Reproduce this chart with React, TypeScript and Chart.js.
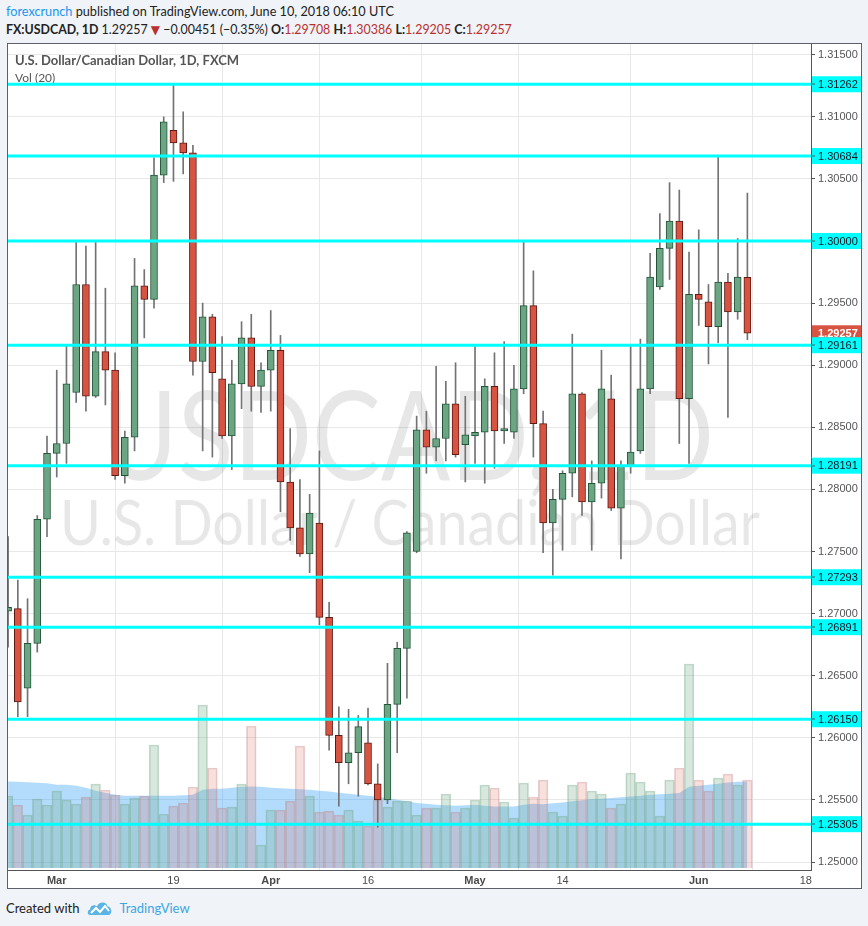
import React, { useEffect, useRef } from 'react';
import { Chart, registerables } from 'chart.js';

Chart.register(...registerables);

// ---- data ----
const axisDates = [
  '02-22', '02-23', '02-26', '02-27', '02-28',
  '03-01', '03-02', '03-05', '03-06', '03-07', '03-08', '03-09', '03-12', '03-13', '03-14', '03-15', '03-16',
  '03-19', '03-20', '03-21', '03-22', '03-23', '03-26', '03-27', '03-28', '03-29', '03-30',
  '04-02', '04-03', '04-04', '04-05', '04-06', '04-09', '04-10', '04-11', '04-12', '04-13',
  '04-16', '04-17', '04-18', '04-19', '04-20', '04-23', '04-24', '04-25', '04-26', '04-27', '04-30',
  '05-01', '05-02', '05-03', '05-04', '05-07', '05-08', '05-09', '05-10', '05-11',
  '05-14', '05-15', '05-16', '05-17', '05-18', '05-21', '05-22', '05-23', '05-24', '05-25',
  '05-28', '05-29', '05-30', '05-31', '06-01', '06-04', '06-05', '06-06', '06-07', '06-08',
  '06-11', '06-12', '06-13', '06-14', '06-15', '06-18',
];

const opens = [
  1.2702, 1.2704, 1.2640, 1.2676, 1.2776, 1.2829, 1.2837, 1.2878, 1.2965, 1.2875,
  1.2911, 1.2896, 1.2811, 1.2842, 1.2964, 1.2953, 1.3053, 1.3089, 1.3079, 1.3071,
  1.2903, 1.2939, 1.2889, 1.2843, 1.2885, 1.2922, 1.2883, 1.2896, 1.2912, 1.2806,
  1.2769, 1.2748, 1.2773, 1.2697, 1.2602, 1.2580, 1.2588, 1.2596, 1.2563, 1.2550,
  1.2627, 1.2672, 1.2750, 1.2848, 1.2834, 1.2841, 1.2869, 1.2836, 1.2843, 1.2846,
  1.2883, 1.2847, 1.2846, 1.2881, 1.2948, 1.2853, 1.2773, 1.2792, 1.2813, 1.2877,
  1.2790, 1.2805, 1.2873, 1.2785, 1.2819, 1.2831, 1.2881, 1.2963, 1.2994, 1.3016,
  1.2873, 1.2957, 1.2951, 1.2931, 1.2967, 1.2943, 1.29708,
];
const highs = [
  1.2762, 1.2727, 1.2712, 1.2779, 1.2843, 1.2896, 1.2916, 1.2999, 1.2996, 1.2999,
  1.2962, 1.2910, 1.2847, 1.2986, 1.2977, 1.3067, 1.3100, 1.3126, 1.3104, 1.3077,
  1.2950, 1.2941, 1.2923, 1.2904, 1.2935, 1.2941, 1.2902, 1.2944, 1.2924, 1.2849,
  1.2808, 1.2796, 1.2831, 1.2709, 1.2625, 1.2623, 1.2618, 1.2624, 1.2579, 1.2660,
  1.2677, 1.2766, 1.2859, 1.2863, 1.2899, 1.2887, 1.2902, 1.2875, 1.2915, 1.2889,
  1.2910, 1.2919, 1.2900, 1.2999, 1.2976, 1.2863, 1.2800, 1.2815, 1.2925, 1.2878,
  1.2823, 1.2912, 1.2892, 1.2823, 1.2916, 1.2921, 1.2990, 1.3022, 1.3047, 1.3041,
  1.2991, 1.3009, 1.2965, 1.3068, 1.2974, 1.3002, 1.30386,
];
const lows = [
  1.2673, 1.2617, 1.2617, 1.2669, 1.2762, 1.2810, 1.2821, 1.2870, 1.2863, 1.2874,
  1.2868, 1.2808, 1.2805, 1.2831, 1.2922, 1.2946, 1.3047, 1.3048, 1.3054, 1.2892,
  1.2831, 1.2826, 1.2841, 1.2816, 1.2865, 1.2863, 1.2862, 1.2863, 1.2782, 1.2759,
  1.2746, 1.2733, 1.2691, 1.2590, 1.2545, 1.2563, 1.2553, 1.2562, 1.2528, 1.2547,
  1.2588, 1.2632, 1.2749, 1.2813, 1.2823, 1.2823, 1.2826, 1.2806, 1.2821, 1.2805,
  1.2817, 1.2837, 1.2841, 1.2877, 1.2826, 1.2749, 1.2731, 1.2751, 1.2794, 1.2779,
  1.2751, 1.2793, 1.2783, 1.2744, 1.2813, 1.2829, 1.2877, 1.2961, 1.2969, 1.2837,
  1.2821, 1.2932, 1.2901, 1.2918, 1.2858, 1.2937, 1.29205,
];
const closes = [
  1.2705, 1.2629, 1.2676, 1.2776, 1.2829, 1.2837, 1.2885, 1.2965, 1.2875, 1.2911,
  1.2896, 1.2811, 1.2842, 1.2964, 1.2953, 1.3053, 1.3096, 1.3079, 1.3071, 1.2903,
  1.2939, 1.2894, 1.2843, 1.2885, 1.2922, 1.2883, 1.2896, 1.2912, 1.2806, 1.2769,
  1.2748, 1.2781, 1.2697, 1.2602, 1.2580, 1.2588, 1.2609, 1.2563, 1.2550, 1.2627,
  1.2672, 1.2765, 1.2848, 1.2834, 1.2841, 1.2869, 1.2828, 1.2844, 1.2846, 1.2883,
  1.2847, 1.2849, 1.2881, 1.2948, 1.2853, 1.2773, 1.2792, 1.2813, 1.2877, 1.2790,
  1.2805, 1.2881, 1.2785, 1.2819, 1.2830, 1.2881, 1.2971, 1.2994, 1.3016, 1.2873,
  1.2957, 1.2953, 1.2931, 1.2967, 1.2943, 1.2971, 1.29257,
];
const volumes = [
  72, 63, 53, 69, 63, 77, 68, 64, 71, 84,
  78, 73, 64, 70, 72, 123, 54, 62, 65, 81,
  163, 100, 60, 61, 84, 142, 23, 58, 58, 67,
  122, 72, 56, 57, 53, 58, 47, 42, 68, 61,
  67, 67, 53, 60, 60, 74, 56, 60, 68, 83,
  80, 66, 50, 85, 71, 88, 56, 52, 83, 86,
  77, 74, 60, 64, 95, 86, 77, 52, 88, 100,
  204, 88, 77, 90, 94, 83, 88,
];
const volumeMa = [
  86.6, 86.3, 85.8, 85.3, 84.8, 83.3, 83.3, 82.3, 80.3, 77.3,
  75.3, 73.3, 72.3, 72.3, 72.3, 72.3, 72.3, 72.3, 72.8, 73.3,
  78.3, 79.3, 79.3, 80.3, 81.3, 81.6, 81.3, 80.3, 79.8, 79.3,
  78.8, 78.3, 77.3, 76.6, 75.3, 74.3, 73.3, 72.3, 71.3, 69.8,
  68.3, 66.8, 65.0, 64.3, 63.3, 62.8, 62.3, 62.8, 63.3, 62.3,
  61.6, 61.6, 61.6, 63.3, 64.3, 63.8, 64.8, 65.6, 66.8, 67.8,
  69.0, 69.3, 70.0, 70.8, 71.6, 72.3, 73.3, 73.8, 74.3, 75.0,
  81.3, 82.3, 83.3, 84.3, 85.6, 86.3, 86.6,
];
const levels = [1.31262, 1.30684, 1.3, 1.29161, 1.28191, 1.27293, 1.26891, 1.2615, 1.25305];
const priceTicks = [
  1.25, 1.255, 1.26, 1.265, 1.27, 1.275, 1.28, 1.285, 1.29, 1.295, 1.3, 1.305, 1.31, 1.315,
];
const timeTickDates = ['03-01', '03-19', '04-02', '04-16', '05-01', '05-14', '06-01', '06-18'];
const timeTickLabels = ['Mar', '19', 'Apr', '16', 'May', '14', 'Jun', '18'];
const monthTick = [true, false, true, false, true, false, true, false];
const lastPrice = 1.29257;

const chartTitle = 'U.S. Dollar/Canadian Dollar, 1D, FXCM';
const volTitle = 'Vol (20)';
const watermarkSymbol = 'USDCAD, 1D';
const watermarkName = 'U.S. Dollar / Canadian Dollar';

// view range
const X_MIN = -0.01;
const X_MAX = 82.54;
const Y_MIN = 1.24936;
const Y_MAX = 1.31586;

const UP = '#6ba583';
const DOWN = '#d75442';
const UP_BORDER = '#225437';
const DOWN_BORDER = '#5b1a13';
const RED_TEXT = '#b8312f';

function fitText(ctx: CanvasRenderingContext2D, text: string, font: string, cx: number, baseline: number, width: number) {
  ctx.font = font;
  const w = ctx.measureText(text).width;
  ctx.save();
  ctx.translate(cx, baseline);
  ctx.scale(width / w, 1);
  ctx.textAlign = 'center';
  ctx.textBaseline = 'alphabetic';
  ctx.fillText(text, 0, 0);
  ctx.restore();
}

const overlayPlugin = {
  id: 'overlay',
  beforeDatasetsDraw(chart: any) {
    const ctx: CanvasRenderingContext2D = chart.ctx;
    const a = chart.chartArea;
    ctx.save();
    ctx.beginPath();
    ctx.rect(a.left, a.top, a.right - a.left, a.bottom - a.top);
    ctx.clip();
    ctx.fillStyle = 'rgba(0,0,0,0.095)';
    fitText(ctx, watermarkSymbol, '400 124px Lato', 400, 436, 612);
    fitText(ctx, watermarkName, '400 62px Lato', 402, 501, 700);
    ctx.fillStyle = '#555';
    ctx.textAlign = 'left';
    ctx.textBaseline = 'alphabetic';
    ctx.font = 'bold 13px Lato';
    ctx.fillText(chartTitle, 7, 21);
    ctx.font = '12px Lato';
    ctx.fillText(volTitle, 7, 38);
    ctx.restore();
  },
  afterDraw(chart: any) {
    const ctx: CanvasRenderingContext2D = chart.ctx;
    const a = chart.chartArea;
    const ys = chart.scales.y;
    const left = a.right + 1;
    const w = chart.width - left;
    ctx.save();
    ctx.font = '11px "Liberation Sans", Arial, sans-serif';
    ctx.textBaseline = 'middle';
    ctx.textAlign = 'left';
    const py = ys.getPixelForValue(lastPrice);
    ctx.fillStyle = DOWN;
    ctx.fillRect(left, py - 8, w, 16);
    ctx.fillStyle = '#ffffff';
    ctx.font = 'bold 11px "Liberation Sans", Arial, sans-serif';
    ctx.fillText(lastPrice.toFixed(5), left + 6, py + 0.5);
    ctx.font = '11px "Liberation Sans", Arial, sans-serif';
    levels.forEach((lv) => {
      const y = ys.getPixelForValue(lv);
      ctx.fillStyle = '#00ffff';
      ctx.fillRect(left, y - 8, w, 16);
      ctx.fillStyle = '#555';
      ctx.fillRect(left, Math.round(y) - 0.5, 3, 1);
      ctx.fillStyle = '#131722';
      ctx.fillText(lv.toFixed(5), left + 6, y + 0.5);
    });
    ctx.restore();
  },
};

export default function App() {
  const ref = useRef<HTMLCanvasElement | null>(null);

  useEffect(() => {
    if (!ref.current) return;
    const idx = opens.map((_, i) => i);
    const up = opens.map((o, i) => closes[i] >= o);
    const tickIndex = timeTickDates.map((d) => axisDates.indexOf(d));

    const levelSets = levels.map((lv) => ({
      type: 'line' as const,
      data: [{ x: X_MIN, y: lv }, { x: X_MAX, y: lv }],
      borderColor: '#00ffff',
      borderWidth: 3,
      pointRadius: 0,
      yAxisID: 'y',
      order: 0,
    }));

    const chart = new Chart(ref.current, {
      type: 'bar',
      data: {
        datasets: [
          ...levelSets,
          {
            type: 'bar',
            data: idx.map((i) => ({ x: i, y: [opens[i], closes[i]] })),
            backgroundColor: up.map((u) => (u ? UP : DOWN)),
            borderColor: up.map((u) => (u ? UP_BORDER : DOWN_BORDER)),
            borderWidth: 1,
            borderSkipped: false,
            barThickness: 7,
            grouped: false,
            yAxisID: 'y',
            order: 1,
          },
          {
            type: 'bar',
            data: idx.map((i) => ({ x: i, y: [lows[i], highs[i]] })),
            backgroundColor: '#737375',
            borderWidth: 0,
            barThickness: 1,
            grouped: false,
            yAxisID: 'y',
            order: 2,
          },
          {
            type: 'bar',
            data: idx.map((i) => ({ x: i, y: volumes[i] })),
            backgroundColor: up.map((u) => (u ? 'rgba(107,165,131,0.26)' : 'rgba(215,84,66,0.18)')),
            borderColor: up.map((u) => (u ? 'rgba(107,165,131,0.4)' : 'rgba(190,120,120,0.35)')),
            borderWidth: 1,
            barPercentage: 1,
            categoryPercentage: 1,
            grouped: false,
            yAxisID: 'yVol',
            order: 4,
          },
          {
            type: 'line',
            data: idx.map((i) => ({ x: i, y: volumeMa[i] })),
            borderWidth: 0,
            borderColor: 'rgba(0,0,0,0)',
            backgroundColor: 'rgba(33,150,243,0.34)',
            fill: 'origin',
            pointRadius: 0,
            yAxisID: 'yVol',
            order: 5,
          },
        ] as any,
      },
      options: {
        animation: false,
        responsive: false,
        devicePixelRatio: 1,
        layout: { padding: 0 },
        plugins: { legend: { display: false }, tooltip: { enabled: false } },
        events: [],
        scales: {
          x: {
            type: 'linear',
            position: 'bottom',
            min: X_MIN,
            max: X_MAX,
            offset: false,
            afterBuildTicks: (s: any) => {
              s.ticks = tickIndex.map((v) => ({ value: v }));
            },
            afterFit: (s: any) => {
              s.height = 18;
              s.paddingLeft = 0;
              s.paddingRight = 0;
            },
            ticks: {
              autoSkip: false,
              maxRotation: 0,
              padding: 4,
              color: '#4a4a4a',
              callback: (_v: any, i: number) => timeTickLabels[i],
              font: (c: any) => ({
                family: '"Liberation Sans", Arial, sans-serif',
                size: 11,
                weight: monthTick[c.index] ? 'bold' : 'normal',
              }),
            },
            grid: { color: '#e8e8e8', drawTicks: false },
            border: { color: '#555', width: 1 },
          },
          y: {
            type: 'linear',
            position: 'right',
            min: Y_MIN,
            max: Y_MAX,
            afterBuildTicks: (s: any) => {
              s.ticks = priceTicks.map((v) => ({ value: v }));
            },
            afterFit: (s: any) => {
              s.width = 50;
              s.paddingTop = 0;
              s.paddingBottom = 0;
            },
            ticks: {
              padding: 3,
              color: '#555',
              font: { family: '"Liberation Sans", Arial, sans-serif', size: 11 },
              callback: (v: any) => Number(v).toFixed(5),
            },
            grid: { color: '#e8e8e8', tickColor: '#555', tickLength: 4 },
            border: { color: '#555', width: 1 },
          },
          yVol: { type: 'linear', display: false, min: -2, max: 824 },
        },
      } as any,
      plugins: [overlayPlugin],
    });
    return () => chart.destroy();
  }, []);

  return (
    <div
      style={{
        position: 'fixed',
        left: 0,
        top: 0,
        width: 868,
        height: 926,
        background: '#f0f3f7',
        fontFamily: 'Lato, "Noto Sans", sans-serif',
        color: '#222',
        overflow: 'hidden',
      }}
    >
      <div style={{ position: 'absolute', left: 6, top: 2, fontSize: 12.7, lineHeight: '18px', whiteSpace: 'nowrap' }}>
        <span style={{ color: '#2196f3' }}>forexcrunch</span> published on TradingView.com, June 10, 2018 06:10 UTC
      </div>
      <div style={{ position: 'absolute', left: 6, top: 21, fontSize: 12.4, lineHeight: '18px', whiteSpace: 'nowrap' }}>
        <b>FX:USDCAD, 1D</b> 1.29257{' '}
        <span style={{ color: RED_TEXT, fontFamily: '"DejaVu Sans", sans-serif', fontSize: 12 }}>▼</span> −0.00451 (−0.35%){' '}
        <b>O:</b><span style={{ color: RED_TEXT }}>1.29708</span> <b>H:</b><span style={{ color: RED_TEXT }}>1.30386</span>{' '}
        <b>L:</b><span style={{ color: RED_TEXT }}>1.29205</span> <b>C:</b><span style={{ color: RED_TEXT }}>1.29257</span>
      </div>
      <div
        style={{
          position: 'absolute',
          left: 7,
          top: 43,
          width: 853,
          height: 844,
          border: '1px solid #5d606b',
          background: '#fff',
        }}
      >
        <canvas ref={ref} width={853} height={844} style={{ display: 'block', width: 853, height: 844 }} />
      </div>
      <div style={{ position: 'absolute', left: 6, top: 899, fontSize: 13, lineHeight: '18px', whiteSpace: 'nowrap', display: 'flex', alignItems: 'center' }}>
        <span style={{ color: '#222' }}>Created with</span>
        <svg width="26" height="16" viewBox="0 0 26 16" style={{ marginLeft: 8, marginRight: 6 }}>
          <path d="M3 15 C0 15 0 10 3 9.5 C3 5 8 4 10 6.5 C11.5 1 20 1 20.5 6.5 C25 6.5 26 15 21 15 Z" fill="#5ab5e6" />
          <path d="M4 13 L9 8 L13 12 L18 6 L22 11" stroke="#fff" strokeWidth="2" fill="none" />
        </svg>
        <span style={{ color: '#3ba7e4' }}>TradingView</span>
      </div>
    </div>
  );
}
